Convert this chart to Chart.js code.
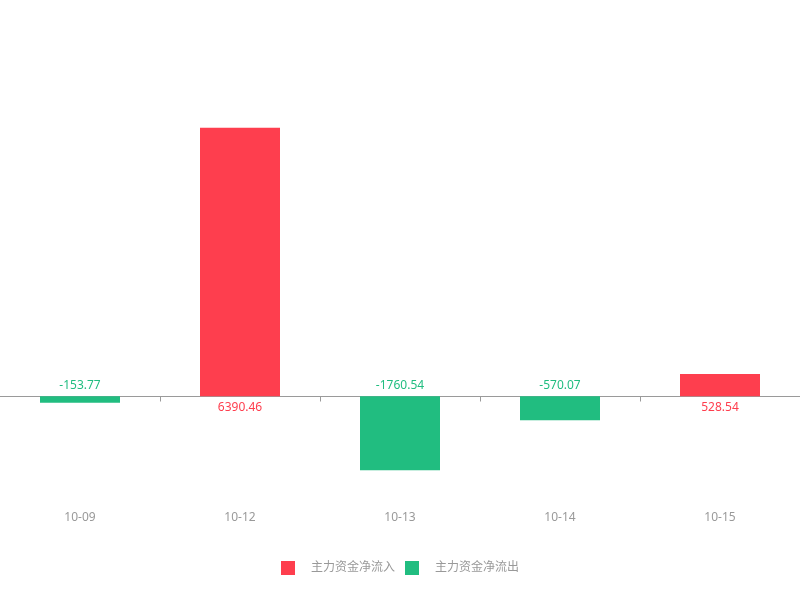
<!DOCTYPE html>
<html>
<head>
<meta charset="utf-8">
<script src="https://cdn.jsdelivr.net/npm/chart.js@4/dist/chart.umd.min.js"></script>
<style>
  html, body { margin: 0; padding: 0; background: #ffffff; }
  #wrap { width: 800px; height: 600px; }
</style>
</head>
<body>
<div id="wrap"><canvas id="c" width="800" height="600"></canvas></div>
<script>
// ---- data ----
const categories = ['10-09', '10-12', '10-13', '10-14', '10-15'];
const netFlow = [-153.77, 6390.46, -1760.54, -570.07, 528.54];
const seriesNames = ['主力资金净流入', '主力资金净流出'];
const inflowValues = netFlow.map(v => (v >= 0 ? v : null));
const outflowValues = netFlow.map(v => (v < 0 ? v : null));

const RED = '#fe3e4e';
const GREEN = '#21bd80';
const FONT = '"Noto Sans", "Noto Sans CJK SC", sans-serif';

const zeroLinePlugin = {
  id: 'zeroLine',
  beforeDatasetsDraw(chart) {
    const { ctx, scales } = chart;
    const y0 = Math.round(scales.y.getPixelForValue(0)) + 0.5;
    const step = scales.x.getPixelForValue(1) - scales.x.getPixelForValue(0);
    ctx.save();
    ctx.strokeStyle = '#9a9a9a';
    ctx.lineWidth = 1;
    ctx.beginPath();
    ctx.moveTo(0, y0);
    ctx.lineTo(chart.width, y0);
    for (let i = 0; i < categories.length; i++) {
      const xb = Math.round(scales.x.getPixelForValue(i) + step / 2) + 0.5;
      ctx.moveTo(xb, y0);
      ctx.lineTo(xb, y0 + 5);
    }
    ctx.stroke();
    ctx.restore();
  }
};

const valueLabelPlugin = {
  id: 'valueLabels',
  afterDatasetsDraw(chart) {
    const { ctx, scales } = chart;
    const y0 = scales.y.getPixelForValue(0);
    ctx.save();
    ctx.font = '12px ' + FONT;
    ctx.textAlign = 'center';
    ctx.textBaseline = 'middle';
    chart.data.datasets.forEach((ds, di) => {
      const meta = chart.getDatasetMeta(di);
      meta.data.forEach((el, i) => {
        const v = ds.data[i];
        if (v === null || v === undefined) return;
        ctx.fillStyle = ds.backgroundColor;
        const y = v >= 0 ? y0 + 11 : y0 - 11;
        ctx.fillText(v.toFixed(2), el.x, y);
      });
    });
    ctx.restore();
  }
};

const legendPlugin = {
  id: 'customLegend',
  afterDraw(chart) {
    const { ctx } = chart;
    ctx.save();
    ctx.font = '12px ' + FONT;
    ctx.textBaseline = 'middle';
    ctx.textAlign = 'left';
    const box = 14, gapText = 16, gapItem = 10;
    const items = chart.data.datasets.map(ds => ({ text: ds.label, color: ds.backgroundColor, w: ctx.measureText(ds.label).width }));
    let total = 0;
    items.forEach((it, i) => { total += box + gapText + it.w + (i < items.length - 1 ? gapItem : 0); });
    let x = Math.round((chart.width - total) / 2);
    const cy = 568;
    items.forEach(it => {
      ctx.fillStyle = it.color;
      ctx.fillRect(x, cy - box / 2, box, box);
      ctx.fillStyle = '#999999';
      ctx.fillText(it.text, x + box + gapText, cy);
      x += box + gapText + it.w + gapItem;
    });
    ctx.restore();
  }
};

new Chart(document.getElementById('c'), {
  type: 'bar',
  data: {
    labels: categories,
    datasets: [
      { label: seriesNames[0], data: inflowValues, backgroundColor: RED, barPercentage: 0.5, categoryPercentage: 1 },
      { label: seriesNames[1], data: outflowValues, backgroundColor: GREEN, barPercentage: 0.5, categoryPercentage: 1 }
    ]
  },
  options: {
    responsive: false,
    animation: false,
    devicePixelRatio: 1,
    layout: { padding: { top: 60, bottom: 73, left: 0, right: 0 } },
    plugins: { legend: { display: false }, tooltip: { enabled: false } },
    scales: {
      x: {
        stacked: true,
        grid: { display: false },
        border: { display: false },
        ticks: { color: '#999999', font: { size: 12, family: FONT }, padding: 2 }
      },
      y: {
        stacked: true,
        display: false,
        min: -2480,
        max: 8000
      }
    }
  },
  plugins: [zeroLinePlugin, valueLabelPlugin, legendPlugin]
});
</script>
</body>
</html>
